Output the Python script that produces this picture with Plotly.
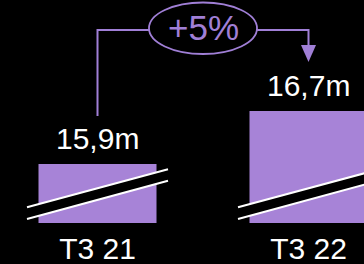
import plotly.graph_objects as go

# ---- data ----
categories = ["T3 21", "T3 22"]
values = [15.9, 16.7]
value_labels = ["15,9m", "16,7m"]
change_label = "+5%"

# ---- layout constants (pixels) ----
W, H = 364, 264
PLOT_BOTTOM = 223          # plot area bottom, px from top
Y_BASE = 15.009            # value at the (broken) axis bottom
PPU = 66.25                # pixels per value unit
Y_TOP = Y_BASE + PLOT_BOTTOM / PPU
X_STEP = 211               # px between categories
X0_PX = 97.5               # px of first category centre
X_RANGE = [-X0_PX / X_STEP, (W - X0_PX) / X_STEP]

BAR_COLOR = "#a783d7"
LINE_COLOR = "#a07fd6"
FONT = "Liberation Sans, Arial, Helvetica, sans-serif"


def py(p):
    """pixel from top -> data y"""
    return Y_BASE + (PLOT_BOTTOM - p) / PPU


def dx(p):
    """pixel offset -> data x offset"""
    return p / X_STEP


xs = list(range(len(categories)))

fig = go.Figure()
fig.add_trace(go.Bar(
    x=xs, y=values, width=118 / X_STEP,
    marker=dict(color=BAR_COLOR, line=dict(width=0)),
    hoverinfo="skip", showlegend=False,
))

shapes = []
# axis-break bands across each bar
for i in xs:
    xl, xr = i - dx(70.5), i + dx(70.5)
    ul, ur = py(207.3), py(169.3)
    ll, lr = py(219.0), py(180.7)
    shapes.append(dict(type="path", xref="x", yref="y",
                       path=f"M {xl},{ll} L {xr},{lr} L {xr},{ur} L {xl},{ul} Z",
                       fillcolor="black", line=dict(width=0)))
    for (a, b) in [(ul, ur), (ll, lr)]:
        shapes.append(dict(type="line", xref="x", yref="y",
                           x0=xl, y0=a, x1=xr, y1=b,
                           line=dict(color="white", width=2)))

# connector
yc = py(30)
left_edge = 0.5 - dx(54)
right_edge = 0.5 + dx(54)
shapes.append(dict(type="path", xref="x", yref="y",
                   path=f"M 0,{py(116)} L 0,{yc} L {left_edge},{yc}",
                   line=dict(color=LINE_COLOR, width=2)))
shapes.append(dict(type="path", xref="x", yref="y",
                   path=f"M {right_edge},{yc} L 1,{yc} L 1,{py(47)}",
                   line=dict(color=LINE_COLOR, width=2)))
shapes.append(dict(type="path", xref="x", yref="y",
                   path=f"M {1 - dx(7.5)},{py(45)} L {1 + dx(7.5)},{py(45)} L 1,{py(62)} Z",
                   fillcolor=LINE_COLOR, line=dict(width=0)))
shapes.append(dict(type="circle", xref="x", yref="y",
                   x0=left_edge, x1=right_edge, y0=py(54), y1=py(2.5),
                   line=dict(color=LINE_COLOR, width=1.8)))

annotations = [dict(x=0.5, y=py(27), xref="x", yref="y", text=change_label,
                    showarrow=False, font=dict(size=35, color=LINE_COLOR, family=FONT))]
for i, (v, t) in enumerate(zip(values, value_labels)):
    annotations.append(dict(x=i, y=v, xref="x", yref="y", text=t,
                            showarrow=False, yanchor="bottom", yshift=7,
                            font=dict(size=30, color="white", family=FONT)))

fig.update_layout(
    width=W, height=H,
    margin=dict(l=0, r=0, t=0, b=H - PLOT_BOTTOM),
    paper_bgcolor="black", plot_bgcolor="black",
    shapes=shapes, annotations=annotations,
    xaxis=dict(range=X_RANGE, tickvals=xs, ticktext=categories,
               showgrid=False, zeroline=False, showline=False, ticks="",
               ticklabelstandoff=5,
               tickfont=dict(size=30, color="white", family=FONT)),
    yaxis=dict(range=[Y_BASE, Y_TOP], visible=False, showgrid=False, zeroline=False),
    showlegend=False,
    font=dict(family=FONT),
)

fig.write_html(
    "out.html",
    config={"displayModeBar": False},
    post_script="document.body.style.margin='0';document.body.style.background='black';document.body.style.overflow='hidden';",
)
